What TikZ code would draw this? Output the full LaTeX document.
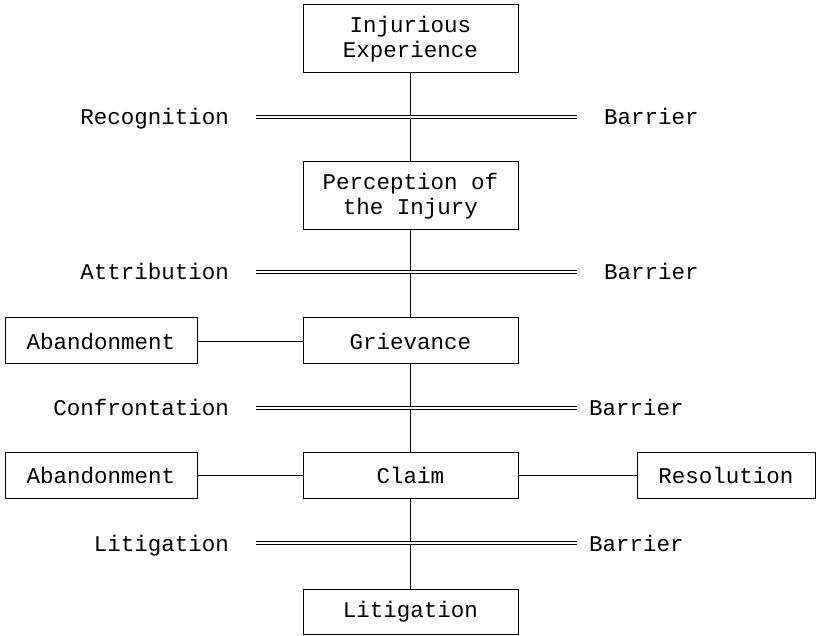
\documentclass[tikz,border=0pt]{standalone}
\usepackage{fontspec}
\setmainfont{Liberation Mono}
\begin{document}
\begin{tikzpicture}[x=1pt,y=-1pt,
  every node/.style={font=\fontsize{22.5}{24.5}\selectfont, inner sep=0pt},
  box/.style={draw, line width=1pt, minimum width=215pt, align=center},
  sidebox/.style={draw, line width=1pt, minimum width=192pt, minimum height=46pt},
  link/.style={line width=0.9pt},
  barrier/.style={double, line width=0.7pt, double distance=2.6pt},
  lbl/.style={anchor=base east},
  rlbl/.style={anchor=base west}]
\useasboundingbox (0,0) rectangle (820,636);
\node[box, minimum height=68pt] (inj) at (410.5,39) {Injurious\\Experience};
\node[box, minimum height=68pt] (perc) at (410.5,196) {Perception of\\the Injury};
\node[box, minimum height=46pt] (griev) at (410.5,341) {Grievance};
\node[sidebox] (ab1) at (101,341) {Abandonment};
\node[box, minimum height=45pt] (claim) at (410.5,475.5) {Claim};
\node[sidebox, minimum height=45pt] (ab2) at (101,475.5) {Abandonment};
\node[draw, line width=1pt, minimum width=178pt, minimum height=45pt] (res) at (726,475.5) {Resolution};
\node[box, minimum height=45pt] (lit) at (410.5,611.5) {Litigation};

\draw[link] (inj) -- (perc);
\draw[link] (perc) -- (griev);
\draw[link] (griev) -- (claim);
\draw[link] (claim) -- (lit);
\draw[link] (ab1) -- (griev);
\draw[link] (ab2) -- (claim);
\draw[link] (claim) -- (res);

\coordinate (b1l) at (256,117); \coordinate (b1r) at (577,117);
\coordinate (b2l) at (256,272); \coordinate (b2r) at (577,272);
\coordinate (b3l) at (256,408); \coordinate (b3r) at (577,408);
\coordinate (b4l) at (256,543); \coordinate (b4r) at (577,543);
\draw[barrier] (b1l) -- (b1r);
\draw[barrier] (b2l) -- (b2r);
\draw[barrier] (b3l) -- (b3r);
\draw[barrier] (b4l) -- (b4r);

\node[lbl] (l1) at (229,125) {Recognition};
\node[lbl] (l2) at (229,280) {Attribution};
\node[lbl] (l3) at (229,416) {Confrontation};
\node[lbl] (l4) at (229,551) {Litigation};
\node[rlbl] (r1) at (604,125) {Barrier};
\node[rlbl] (r2) at (604,280) {Barrier};
\node[rlbl] (r3) at (589,416) {Barrier};
\node[rlbl] (r4) at (589,551) {Barrier};
\end{tikzpicture}
\end{document}
